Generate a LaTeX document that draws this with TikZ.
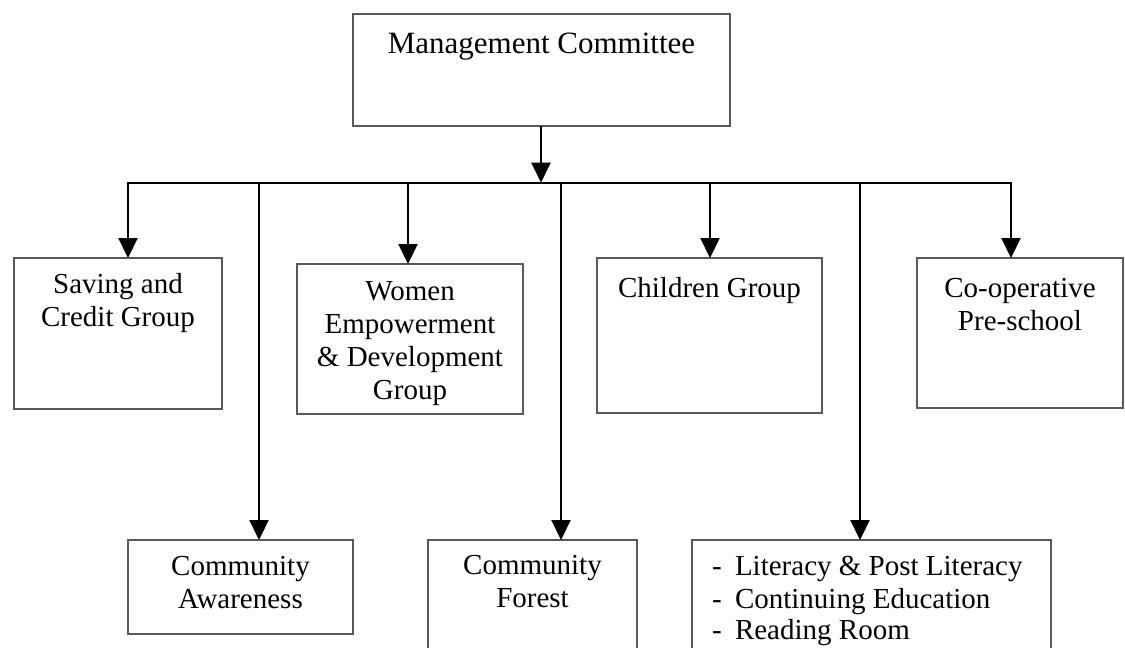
\documentclass[tikz,border=0pt]{standalone}
\usepackage{fontspec}
\setmainfont{Liberation Serif}
\usetikzlibrary{arrows.meta}
% fixed-size box content: width, height, first-baseline depth, text
\newcommand{\boxtext}[4]{\parbox[c][#2][t]{#1}{\centering\rule{0pt}{#3}#4\par}}
\newcommand{\itemdash}{\hspace*{20pt}\makebox[23pt][l]{-}}
\begin{document}
\begin{tikzpicture}[x=1pt,y=-1pt,
  orgbox/.style={draw=black!65, line width=1.8pt, inner sep=0pt, outer sep=0pt,
    fill=white, font=\fontsize{29}{33}\selectfont},
  link/.style={line width=2.2pt, draw=black},
  tip/.style={link, -{Triangle[length=20pt,width=19pt]}},
  twotip/.style={link, {Triangle[length=20pt,width=19pt]}-{Triangle[length=20pt,width=19pt]}}]
\useasboundingbox (0,0) rectangle (1125,648);
\clip (0,0) rectangle (1125,648);

% top level
\node[orgbox] (mgmt) at (541.5,70)
  {\boxtext{377pt}{112pt}{39pt}{\fontsize{31}{33}\selectfont Management Committee}};

% second row
\node[orgbox] (saving) at (118,333.5)
  {\boxtext{208pt}{151pt}{35pt}{Saving and\\Credit Group}};
\node[orgbox] (women) at (410,339)
  {\boxtext{226pt}{150pt}{36pt}{Women\\Empowerment\\\& Development\\Group}};
\node[orgbox] (children) at (709.5,335.5)
  {\boxtext{225pt}{155pt}{39pt}{Children Group}};
\node[orgbox] (coop) at (1020,333)
  {\boxtext{206pt}{150pt}{39pt}{Co-operative\\Pre-school}};

% third row
\node[orgbox] (aware) at (240.5,587)
  {\boxtext{225pt}{94pt}{35pt}{Community\\Awareness}};
\node[orgbox] (forest) at (532.5,600)
  {\boxtext{209pt}{120pt}{34pt}{Community\\Forest}};
\node[orgbox] (literacy) at (871.5,600)
  {\parbox[c][120pt][t]{359pt}{\raggedright\rule{0pt}{35pt}%
    \itemdash Literacy \& Post Literacy\\
    \itemdash Continuing Education\\[-2pt]
    \itemdash Reading Room\par}};

% distribution bus
\coordinate (bM) at (541,182.7);
\coordinate (bS) at (128,182.7);
\coordinate (bA) at (259,182.7);
\coordinate (bW) at (408,182.7);
\coordinate (bF) at (561,182.7);
\coordinate (bC) at (710,182.7);
\coordinate (bL) at (860,182.7);
\coordinate (bP) at (1011,182.7);

\draw[tip] (bM |- mgmt.south) -- (bM);
\draw[twotip] (bS |- saving.north) -- (bS) -- (bP) -- (bP |- coop.north);
\draw[tip] (bW) -- (bW |- women.north);
\draw[tip] (bC) -- (bC |- children.north);
\draw[tip] (bA) -- (bA |- aware.north);
\draw[tip] (bF) -- (bF |- forest.north);
\draw[tip] (bL) -- (bL |- literacy.north);
\end{tikzpicture}
\end{document}
